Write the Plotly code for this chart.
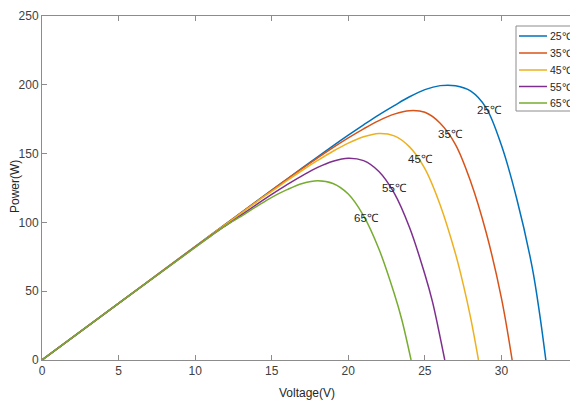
import plotly.graph_objects as go

# ---- data ----
temps = ["25℃", "35℃", "45℃", "55℃", "65℃"]

v_25 = [0, 5, 10, 11, 12, 13, 14, 15, 16, 17, 18, 19, 20, 21, 22, 23, 24, 25, 26, 27, 28, 29, 30, 31, 32, 32.5, 32.9]
p_25 = [0, 41.2, 82.5, 90.7, 98.9, 107.1, 115.3, 123.4, 131.5, 139.6, 147.6, 155.6, 163.4, 170.9, 178.2,
        184.9, 191.3, 196.5, 199.4, 199.3, 195.4, 183.3, 156.0, 117.2, 67.8, 33.2, 0]

v_35 = [0, 5, 10, 11, 12, 13, 14, 15, 16, 17, 18, 19, 20, 21, 22, 23, 24, 25, 26, 27, 28, 29, 30, 30.7]
p_35 = [0, 41.2, 82.4, 90.6, 98.8, 107.0, 115.2, 123.3, 131.4, 139.2, 146.9, 154.3, 161.4, 168.0, 174.0,
        178.7, 181.2, 180.0, 172.1, 156.6, 129.4, 92.8, 45.0, 0]

v_45 = [0, 5, 10, 11, 12, 13, 14, 15, 16, 17, 18, 19, 20, 21, 22, 23, 24, 25, 26, 27, 27.5, 28, 28.5]
p_45 = [0, 41.2, 82.3, 90.5, 98.6, 106.7, 114.8, 122.6, 130.4, 137.9, 145.0, 151.7, 157.6, 162.2, 164.6,
        162.9, 154.9, 139.1, 112.7, 77.2, 55.3, 30.0, 0]

v_55 = [0, 5, 10, 11, 12, 13, 14, 15, 16, 17, 18, 19, 20, 21, 22, 23, 24, 25, 25.5, 26, 26.3]
p_55 = [0, 41.1, 82.0, 90.0, 97.7, 105.3, 112.9, 120.3, 127.4, 134.0, 140.0, 144.5, 146.7, 144.9, 137.0,
        121.3, 96.3, 62.3, 42.2, 16.5, 0]

v_65 = [0, 5, 10, 11, 12, 13, 14, 15, 16, 17, 18, 19, 20, 21, 22, 23, 23.5, 24.1]
p_65 = [0, 41.1, 81.8, 89.9, 97.8, 104.4, 111.4, 118.2, 123.8, 128.3, 130.3, 128.3, 120.6, 104.8, 80.7,
        48.3, 29.1, 0]

label_x = [29.24, 26.68, 24.74, 23.05, 21.2]
label_y = [181.8, 164.4, 146.1, 125.0, 103.1]

x_ticks = [0, 5, 10, 15, 20, 25, 30, 35]
y_ticks = [0, 50, 100, 150, 200, 250]

colors = ["#0072BD", "#D95319", "#EDB120", "#7E2F8E", "#77AC30"]
series = [(v_25, p_25), (v_35, p_35), (v_45, p_45), (v_55, p_55), (v_65, p_65)]

FONT = "Liberation Sans, Arial, sans-serif"

# the page body adds an 8px offset; the figure is sized so the plot lands where the reference has it
OFF = 8
W, H = 570, 395
ML, MR, MT, MB = 34, 0, 8, 43
PW, PH = W - ML - MR, H - MT - MB


def px_x(px):  # window pixel -> paper x
    return (px - OFF - ML) / PW


def px_y(py):  # window pixel -> paper y
    return (H - MB - (py - OFF)) / PH


fig = go.Figure()
for name, (v, p), c in zip(temps, series, colors):
    fig.add_trace(go.Scatter(x=v, y=p, mode="lines", name=name, showlegend=False,
                             line=dict(color=c, width=1.5, shape="spline", smoothing=1.0)))

for t, lx, ly in zip(temps, label_x, label_y):
    fig.add_annotation(x=lx, y=ly, text=t, showarrow=False,
                       font=dict(family=FONT, size=11.5, color="#262626"))

# legend box (drawn to match the reference's compact legend)
fig.add_shape(type="rect", xref="paper", yref="paper",
              x0=px_x(516), x1=px_x(572), y0=px_y(111), y1=px_y(26),
              line=dict(color="#8c8c8c", width=1), fillcolor="white", layer="above")
entry_y = [36, 53, 70, 86.5, 103]
for t, c, ey in zip(temps, colors, entry_y):
    fig.add_shape(type="line", xref="paper", yref="paper",
                  x0=px_x(519), x1=px_x(547), y0=px_y(ey), y1=px_y(ey),
                  line=dict(color=c, width=1.5), layer="above")
    fig.add_annotation(xref="paper", yref="paper", x=px_x(548), y=px_y(ey),
                       xanchor="left", yanchor="middle", text=t, showarrow=False,
                       font=dict(family=FONT, size=10.5, color="#262626"))

axis_common = dict(showgrid=False, zeroline=False, showline=True, linecolor="#8c8c8c",
                   linewidth=1, mirror="ticks", ticks="inside", ticklen=5, automargin=False,
                   ticklabeloverflow="allow",
                   tickcolor="#8c8c8c", tickfont=dict(family=FONT, size=12, color="#404040"))

fig.update_xaxes(range=[0, 35], tickvals=x_ticks, ticktext=[str(t) for t in x_ticks], **axis_common)
fig.update_yaxes(range=[0, 250], tickvals=y_ticks, ticktext=[str(t) for t in y_ticks], **axis_common)

fig.add_annotation(xref="paper", yref="paper", x=px_x(307), y=px_y(393), yanchor="middle",
                   text="Voltage(V)", showarrow=False,
                   font=dict(family=FONT, size=12, color="#262626"))
fig.add_annotation(xref="paper", yref="paper", x=px_x(15), y=px_y(187), xanchor="center",
                   yanchor="middle", text="Power(W)", textangle=-90, showarrow=False,
                   font=dict(family=FONT, size=12, color="#262626"))

fig.update_layout(
    width=W, height=H,
    margin=dict(l=ML, r=MR, t=MT, b=MB, autoexpand=False),
    paper_bgcolor="white", plot_bgcolor="white",
    showlegend=False,
)

fig.write_html("out.html")
